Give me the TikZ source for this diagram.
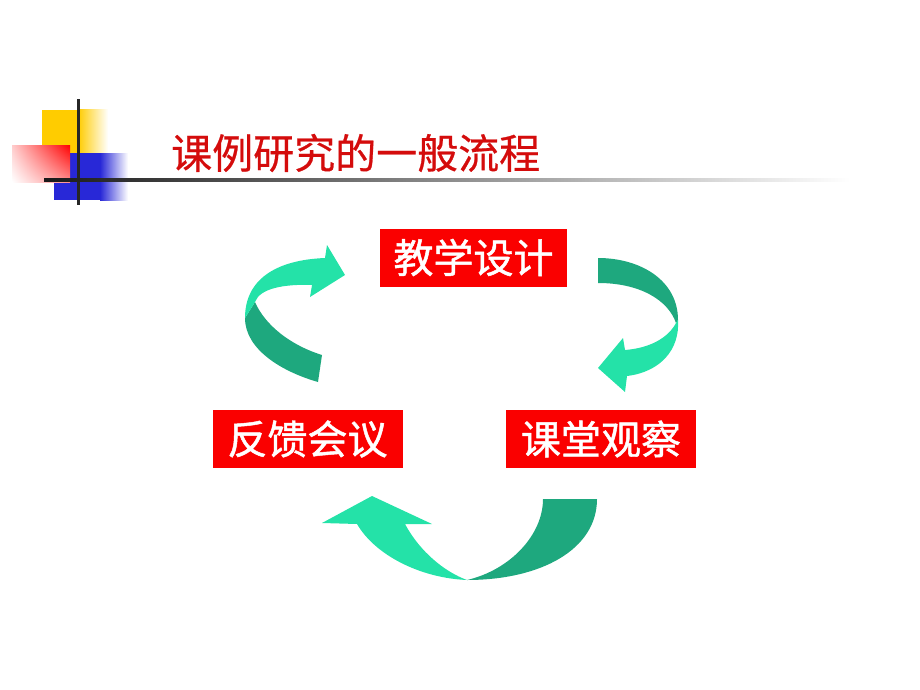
\documentclass[tikz,border=0pt]{standalone}
\usepackage{fontspec}
\usetikzlibrary{shadings}
\newfontfamily\cjk[FakeBold=0.6]{Noto Sans CJK SC}
\newfontfamily\cjkbox[FakeBold=1.2]{Noto Sans CJK SC}
\definecolor{titlered}{RGB}{212,12,12}
\definecolor{boxred}{RGB}{250,0,0}
\definecolor{mintlight}{RGB}{36,226,168}
\definecolor{mintdark}{RGB}{30,168,126}
\definecolor{deckyellow}{RGB}{255,204,0}
\definecolor{deckblue}{RGB}{40,40,215}
\newcommand*{\boxwd}{190pt}
\newcommand*{\boxht}{58pt}

\begin{document}
\begin{tikzpicture}[x=1pt, y=-1pt,
    redbox/.style={fill=boxred, text=white, inner sep=0pt, minimum width=\boxwd, minimum height=\boxht, font=\cjkbox\fontsize{40}{44}\selectfont}]
    \useasboundingbox (0,0) rectangle (920,690);
    % corner decoration
        \fill [deckyellow] (42,110) rectangle (78,153);
        \shade [left color=deckyellow, right color=white] (78,110) rectangle (108,153);
        \fill [deckblue] (54,153) rectangle (100,200);
        \shade [left color=deckblue, right color=white] (100,153) rectangle (128,200);
        \shade [upper right=red, upper left=red!20, lower left=white, lower right=red!45] (12,145) rectangle (70,182);
        \fill [black!85] (76.5,99) rectangle (79.5,205);
        \shade [left color=black!90, middle color=gray!65, right color=white] (44,178.5) rectangle (850,181.5);
    % title
        \node [anchor=west, inner sep=0pt, text=titlered, font=\cjk\fontsize{41}{46}\selectfont] (title) at (171,153) {课例研究的一般流程};
    % the three steps
        \node [redbox, minimum width=187pt] (design) at (473.5,257.5) {教学设计};
        \node [redbox] (observe) at (601,439) {课堂观察};
        \node [redbox] (meeting) at (307.5,439) {反馈会议};
    % design -> observe
        \fill [mintdark] (598,258) .. controls (640,258) and (678,280) .. (678,320) -- (676,323) .. controls (668,300) and (640,283) .. (598,283) -- cycle;
        \fill [mintlight] (678,320) .. controls (680,350) and (660,372) .. (627,376) -- (625,392) -- (598,368) -- (623,338) -- (625,350) .. controls (650,348) and (668,338) .. (676,323) -- cycle;
    % observe -> meeting
        \fill [mintdark] (543,499) -- (597,499) .. controls (597,550) and (540,580) .. (467,580) .. controls (510,570) and (543,535) .. (543,499) -- cycle;
        \fill [mintlight] (467,580) .. controls (420,578) and (375,555) .. (357,524) -- (322,523) -- (372,496) -- (432,524) -- (405,524) .. controls (420,552) and (445,572) .. (467,580) -- cycle;
    % meeting -> design
        \fill [mintdark] (318,382) .. controls (283,372) and (245,350) .. (245,318) -- (255,302) .. controls (265,325) and (290,345) .. (322,355) -- cycle;
        \fill [mintlight] (245,318) .. controls (245,280) and (275,260) .. (325,258) -- (327,245) -- (345,275) -- (310,297) -- (312,285) .. controls (285,284) and (260,288) .. (255,302) -- cycle;
    \end{tikzpicture}
\end{document}
